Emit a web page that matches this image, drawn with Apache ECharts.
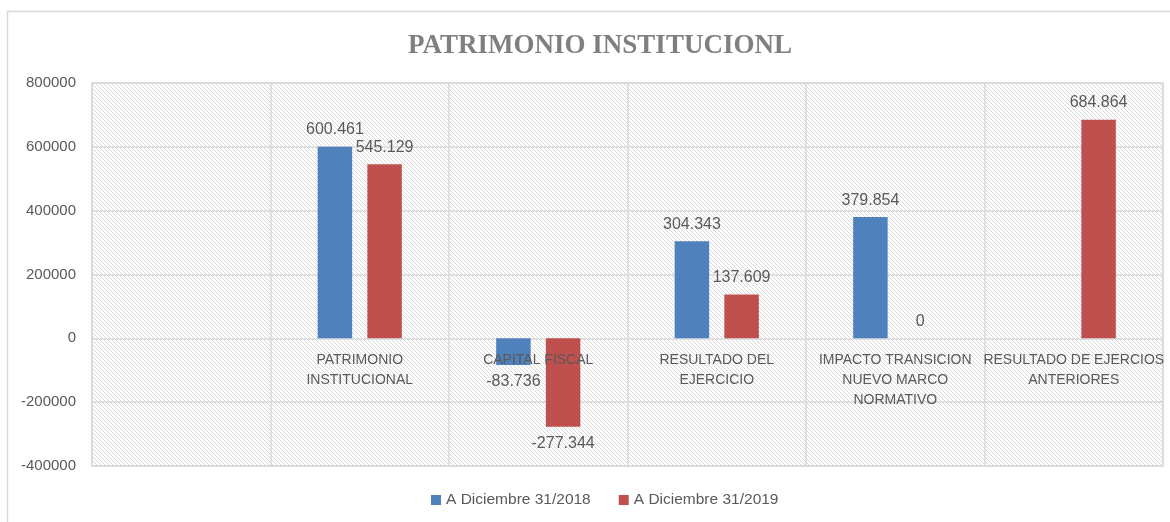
<!DOCTYPE html>
<html>
<head>
<meta charset="utf-8">
<script src="https://cdn.jsdelivr.net/npm/echarts@6/dist/echarts.min.js"></script>
<style>
html,body{margin:0;padding:0;background:#fff;}
#chart{width:1170px;height:522px;}
</style>
</head>
<body>
<div id="chart"></div>
<script>
const titleText = 'PATRIMONIO INSTITUCIONL';
const categories = ['', 'PATRIMONIO\nINSTITUCIONAL', 'CAPITAL FISCAL', 'RESULTADO DEL\nEJERCICIO', 'IMPACTO TRANSICION\nNUEVO MARCO\nNORMATIVO', 'RESULTADO DE EJERCIOS\nANTERIORES'];
const seriesNames = ['A Diciembre 31/2018', 'A Diciembre 31/2019'];
const values2018 = [null, 600461, -83736, 304343, 379854, null];
const values2019 = [null, 545129, -277344, 137609, 0, 684864];
const yTicks = [-400000, -200000, 0, 200000, 400000, 600000, 800000];

const GRID_TOP = 83, GRID_BOTTOM = 56, H = 522;
const plotH = H - GRID_TOP - GRID_BOTTOM;
const yMin = yTicks[0], yMax = yTicks[yTicks.length - 1];
const zeroOffset = -((0 - yMin) / (yMax - yMin)) * plotH;

// hatch pattern
const pc = document.createElement('canvas');
pc.width = 4; pc.height = 4;
const pctx = pc.getContext('2d');
pctx.fillStyle = '#ffffff';
pctx.fillRect(0, 0, 4, 4);
pctx.fillStyle = '#d9d9d9';
for (let i = 0; i < 4; i++) pctx.fillRect(i, i, 1, 1);

function fmt(v) {
  const s = String(Math.abs(v)).replace(/\B(?=(\d{3})+(?!\d))/g, '.');
  return (v < 0 ? '-' : '') + s;
}
function toData(arr) {
  return arr.map(v => {
    if (v === null) return '-';
    return { value: v, label: { position: v < 0 ? 'bottom' : 'top' } };
  });
}

const chart = echarts.init(document.getElementById('chart'));
const labelStyle = {
  show: true,
  distance: 9,
  color: '#595959',
  fontSize: 16,
  fontFamily: 'Liberation Sans',
  formatter: p => fmt(p.value)
};
chart.setOption({
  animation: false,
  graphic: [{
    type: 'rect', z: -10,
    shape: { x: 7.5, y: 11.5, width: 1170, height: 520 },
    style: { fill: '#fff', stroke: '#d9d9d9', lineWidth: 1.5 }
  }],
  title: {
    text: titleText,
    left: 595, top: 28,
    textAlign: 'center',
    textStyle: { fontFamily: 'Liberation Serif', fontWeight: 'bold', fontSize: 27, color: '#7f7f7f' }
  },
  legend: {
    bottom: 9,
    left: 426,
    itemWidth: 10, itemHeight: 10, itemGap: 28,
    icon: 'rect',
    textStyle: { color: '#595959', fontSize: 15.5, fontFamily: 'Liberation Sans' },
    data: seriesNames
  },
  grid: {
    left: 92, right: 7, top: GRID_TOP, bottom: GRID_BOTTOM,
    outerBoundsMode: 'none',
    containLabel: false,
    show: true,
    borderColor: '#d9d9d9', borderWidth: 1.5,
    backgroundColor: { image: pc, repeat: 'repeat' }
  },
  xAxis: [{
    type: 'category',
    data: categories,
    z: 10,
    offset: zeroOffset,
    axisLine: { show: false, onZero: false },
    axisTick: { show: false },
    splitLine: { show: true, lineStyle: { color: '#d9d9d9', width: 1.5 } },
    axisLabel: { interval: 0, margin: 12, color: '#595959', fontSize: 14, lineHeight: 20, fontFamily: 'Liberation Sans' }
  }],
  yAxis: {
    type: 'value',
    min: yMin, max: yMax, interval: 200000,
    axisLine: { show: false },
    axisTick: { show: false },
    splitLine: { lineStyle: { color: '#d9d9d9', width: 1.5 } },
    axisLabel: { margin: 16, color: '#595959', fontSize: 15, fontFamily: 'Liberation Sans', formatter: v => String(v) }
  },
  series: [
    { name: seriesNames[0], type: 'bar', data: toData(values2018), barWidth: 34.5, barGap: '44%', itemStyle: { color: '#4f81bd' }, label: labelStyle },
    { name: seriesNames[1], type: 'bar', data: toData(values2019), barWidth: 34.5, barGap: '44%', itemStyle: { color: '#c0504d' }, label: labelStyle }
  ]
});
</script>
</body>
</html>
